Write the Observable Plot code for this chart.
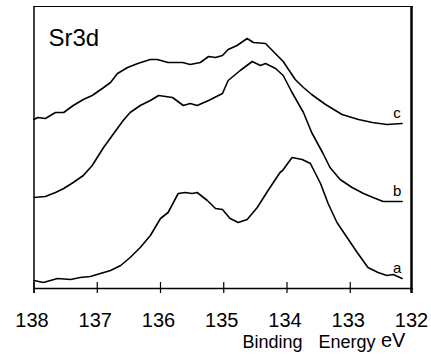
<!DOCTYPE html>
<html><head><meta charset="utf-8">
<script src="https://cdn.jsdelivr.net/npm/d3@7"></script>
<script src="https://cdn.jsdelivr.net/npm/@observablehq/plot@0.6"></script>
<style>
html,body{margin:0;padding:0;background:#fff;}
</style></head><body><div id="chart"></div>
<script>
// Binding energy (eV) and intensity (arb. units) for the three Sr3d spectra
const energyA = [138.00,137.85,137.63,137.42,137.27,137.11,136.95,136.79,136.63,136.48,136.32,136.16,136.00,135.88,135.72,135.61,135.50,135.42,135.26,135.13,135.02,134.90,134.77,134.63,134.47,134.30,134.11,134.07,133.92,133.76,133.63,133.47,133.35,133.21,133.05,132.89,132.72,132.56,132.42,132.32,132.18];
const intensityA = [10,8,12,11,13,14,17,20,25,33,43,55,72,78,97,98,97,98,90,82,81,72,68,71,83,100,118,120,133,131,127,107,87,68,53,38,23,18,15,16,12];

const energyB = [138.00,137.82,137.66,137.53,137.38,137.22,137.08,136.90,136.74,136.59,136.48,136.32,136.16,136.03,135.81,135.64,135.53,135.42,135.24,135.02,134.93,134.74,134.55,134.42,134.34,134.18,134.06,133.92,133.74,133.61,133.43,133.32,133.16,132.97,132.79,132.64,132.48,132.18];
const intensityB = [93,94,98,102,108,115,125,143,157,170,178,185,190,195,193,185,187,185,190,197,210,220,229,225,227,222,215,198,178,158,137,123,111,103,97,93,89,89];

const energyC = [138.00,137.94,137.82,137.66,137.53,137.38,137.22,137.08,136.92,136.79,136.68,136.52,136.36,136.16,136.05,135.88,135.65,135.53,135.37,135.24,135.13,135.02,134.93,134.79,134.63,134.53,134.34,134.06,133.87,133.74,133.61,133.39,133.13,132.87,132.65,132.42,132.18];
const intensityC = [171,173,172,178,178,185,191,195,202,208,217,223,227,231,231,228,228,226,228,234,233,235,241,245,252,248,247,229,211,203,196,186,176,171,168,166,167];

const seriesNames = ["a","b","c"];
const tickValues = [138,137,136,135,134,133,132];
const xDomain = [138,132];
const yDomain = [2,284];
const titleText = "Sr3d";
const axisWords = ["Binding","Energy","eV"];

const rows = [];
[[energyA,intensityA],[energyB,intensityB],[energyC,intensityC]].forEach(([E,I],k) => {
  E.forEach((e,i) => rows.push({series: seriesNames[k], energy: e, intensity: I[i]}));
});

const font = "Arial, 'Liberation Sans', Helvetica, sans-serif";

const chart = Plot.plot({
  width: 431, height: 355,
  marginLeft: 33.5, marginRight: 18, marginTop: 6, marginBottom: 67,
  x: {domain: xDomain, axis: null, label: null},
  y: {domain: yDomain, axis: null, label: null},
  style: {fontFamily: font, background: "white", color: "black"},
  marks: [
    Plot.ruleY([yDomain[1]], {stroke: "black", strokeWidth: 1}),
    Plot.ruleY([yDomain[0]], {stroke: "black", strokeWidth: 1.5}),
    Plot.ruleX([xDomain[0]], {stroke: "black", strokeWidth: 1.5, insetBottom: -5}),
    Plot.ruleX([xDomain[1]], {stroke: "black", strokeWidth: 2.5, dx: -2, insetBottom: -5}),
    Plot.tickX(tickValues.slice(0, -1), {x: d => d, stroke: "black", strokeWidth: 1.2, insetTop: 276, insetBottom: -5}),
    Plot.axisX({ticks: tickValues, tickSize: 0, tickPadding: 24, fontSize: 20, dx: -2, label: null, tickFormat: d => String(d), fill: "black"}),
    Plot.line(rows, {x: "energy", y: "intensity", z: "series", stroke: "black", strokeWidth: 1.6}),
    Plot.text(rows, Plot.selectLast({x: "energy", y: "intensity", z: "series", text: "series", dx: -5, dy: -6, lineAnchor: "bottom", fontSize: 15, fill: "black"})),
    Plot.text([titleText], {frameAnchor: "top-left", dx: 14.5, dy: 39, lineAnchor: "bottom", textAnchor: "start", fontSize: 24, fill: "black"}),
    Plot.text([axisWords[0]], {frameAnchor: "bottom-left", dx: 208.5, dy: 59, lineAnchor: "bottom", textAnchor: "start", fontSize: 18, fill: "black"}),
    Plot.text([axisWords[1]], {frameAnchor: "bottom-left", dx: 284.5, dy: 59, lineAnchor: "bottom", textAnchor: "start", fontSize: 18, fill: "black"}),
    Plot.text([axisWords[2]], {frameAnchor: "bottom-left", dx: 347, dy: 58, lineAnchor: "bottom", textAnchor: "start", fontSize: 20, fill: "black"})
  ]
});
document.getElementById("chart").appendChild(chart);
</script></body></html>
